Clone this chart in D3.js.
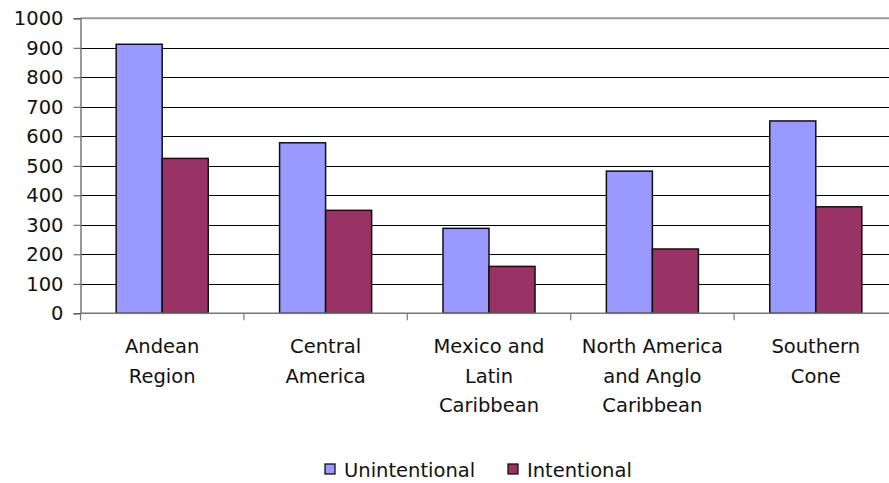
<!DOCTYPE html>
<html>
<head>
<meta charset="utf-8">
<script src="https://cdn.jsdelivr.net/npm/d3@7"></script>
<style>
  body { margin: 0; background: #fff; }
  svg { display: block; font-family: "DejaVu Sans", Verdana, sans-serif; }
</style>
</head>
<body>
<svg width="889" height="483"></svg>
<script>
// chart data
const regions = [
  ["Andean", "Region"],
  ["Central", "America"],
  ["Mexico and", "Latin", "Caribbean"],
  ["North America", "and Anglo", "Caribbean"],
  ["Southern", "Cone"]
];
const seriesNames = ["Unintentional", "Intentional"];
const unintentional = [912, 578, 288, 482, 652];
const intentional = [525, 349, 159, 218, 361];
const yTicks = [0, 100, 200, 300, 400, 500, 600, 700, 800, 900, 1000];
const colors = ["#9999ff", "#993366"];

const svg = d3.select("svg");
const keys = regions.map(r => r.join(" "));

const x0 = d3.scaleBand().domain(keys).range([80.5, 897.5]).padding(0);
const x1 = d3.scaleBand().domain(seriesNames).range([0, x0.bandwidth()])
  .paddingInner(0).paddingOuter(0.775);
const y = d3.scaleLinear().domain([0, 1000]).range([313.3, 18.3]);
const color = d3.scaleOrdinal().domain(seriesNames).range(colors);

// gridlines
svg.append("g")
  .selectAll("line")
  .data(yTicks.filter(t => t > 0 && t < 1000))
  .enter().append("line")
  .attr("x1", 80.5).attr("x2", 897.5)
  .attr("y1", d => Math.round(y(d)) + 0.5)
  .attr("y2", d => Math.round(y(d)) + 0.5)
  .attr("stroke", "#000").attr("stroke-width", 1.2);

// plot area top border
svg.append("line")
  .attr("x1", 80.5).attr("x2", 897.5)
  .attr("y1", y(1000)).attr("y2", y(1000))
  .attr("stroke", "#999").attr("stroke-width", 2);

// bars
const rows = keys.map((k, i) => ({ key: k, vals: [unintentional[i], intentional[i]] }));
const groups = svg.append("g").selectAll("g")
  .data(rows)
  .enter().append("g")
  .attr("transform", d => "translate(" + x0(d.key) + ",0)");

groups.selectAll("rect")
  .data(d => d.vals.map((v, j) => ({ name: seriesNames[j], value: v })))
  .enter().append("rect")
  .attr("x", d => x1(d.name))
  .attr("width", x1.bandwidth())
  .attr("y", d => y(d.value))
  .attr("height", d => y(0) - y(d.value))
  .attr("fill", d => color(d.name))
  .attr("stroke", "#111")
  .attr("stroke-width", 1.5);

// y axis
const yAxis = svg.append("g")
  .attr("transform", "translate(80.5,0)")
  .call(d3.axisLeft(y).tickValues(yTicks).tickSize(7).tickPadding(10).tickFormat(d3.format("d")));
yAxis.select(".domain").attr("stroke", "#777").attr("stroke-width", 1.5);
yAxis.selectAll(".tick line").attr("stroke", "#555");
yAxis.selectAll("text").attr("font-size", 19.5).attr("fill", "#111")
  .attr("font-family", "DejaVu Sans, Verdana, sans-serif");

// x axis
const xAxis = svg.append("g")
  .attr("transform", "translate(0," + y(0) + ")");
xAxis.append("line")
  .attr("x1", 80.5).attr("x2", 897.5)
  .attr("stroke", "#777").attr("stroke-width", 1.5);
xAxis.selectAll(".xt")
  .data(keys)
  .enter().append("line")
  .attr("class", "xt")
  .attr("x1", d => x0(d)).attr("x2", d => x0(d))
  .attr("y1", 0).attr("y2", 7)
  .attr("stroke", "#777").attr("stroke-width", 1.2);

const labels = svg.append("g").selectAll("text")
  .data(regions)
  .enter().append("text")
  .attr("text-anchor", "middle")
  .attr("font-size", 19.5)
  .attr("fill", "#111")
  .attr("x", (d, i) => x0(keys[i]) + x0.bandwidth() / 2);
labels.selectAll("tspan")
  .data(d => d)
  .enter().append("tspan")
  .attr("x", function() { return d3.select(this.parentNode).attr("x"); })
  .attr("y", (d, i) => 353 + i * 29.5)
  .text(d => d);

// legend
const legend = svg.append("g");
const legendX = [325, 508];
seriesNames.forEach((s, i) => {
  legend.append("rect")
    .attr("x", legendX[i]).attr("y", 464)
    .attr("width", 10).attr("height", 10)
    .attr("fill", colors[i]).attr("stroke", "#111").attr("stroke-width", 1.3);
  legend.append("text")
    .attr("x", legendX[i] + 19).attr("y", 476.5)
    .attr("font-size", 19.5).attr("fill", "#111")
    .text(s);
});
</script>
</body>
</html>
